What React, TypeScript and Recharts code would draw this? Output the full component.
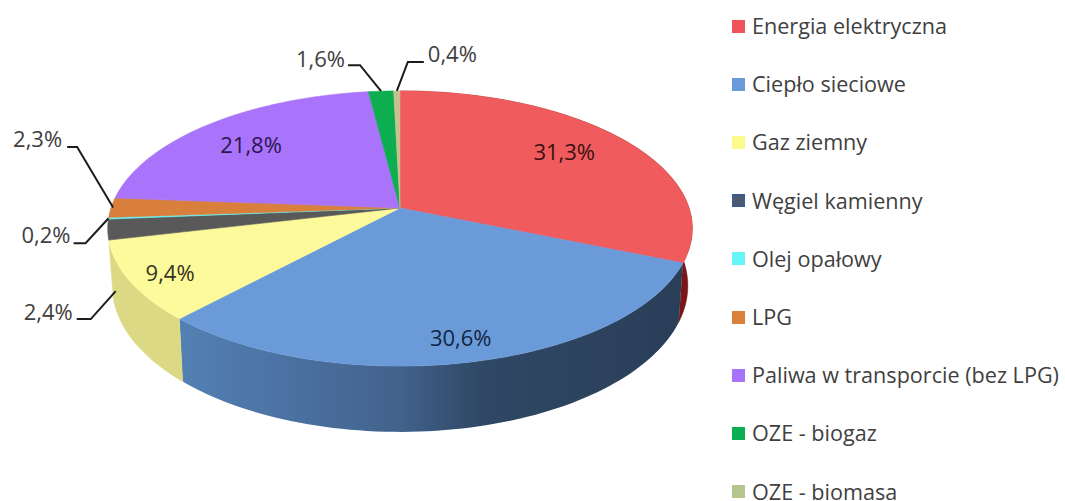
import { Legend, Pie, PieChart } from "recharts";

const CATEGORIES = [
  "Energia elektryczna",
  "Ciepło sieciowe",
  "Gaz ziemny",
  "Węgiel kamienny",
  "Olej opałowy",
  "LPG",
  "Paliwa w transporcie (bez LPG)",
  "OZE - biogaz",
  "OZE - biomasa",
];
const SHARES = [31.3, 30.6, 9.4, 2.4, 0.2, 2.3, 21.8, 1.6, 0.4];
const TOP_COLORS = ["#f05c5e", "#6a9ad8", "#fdfa9b", "#595959", "#66f6f8", "#d97f3c", "#a973fb", "#0cae50", "#c9c08f"];
const LEGEND_COLORS = ["#f0545c", "#6a9ad8", "#fdfa8c", "#505a6e", "#66f6f8", "#d9803a", "#a873fc", "#0bae52", "#b4c68c"];
const WALL_COLORS = ["#7a1616", "#43648f", "#dcd985", "#3a3a3a", "#48aeb0", "#98592a", "#7650b0", "#087a38", "#8d8664"];

const rows = CATEGORIES.map((name, i) => ({
  name,
  value: SHARES[i],
  fill: TOP_COLORS[i],
  wall: WALL_COLORS[i],
  legendColor: LEGEND_COLORS[i],
}));

// the picture is a perspective pie: tilt flattens y, near side is bigger
const Y_SCALE = 0.4655;
const PERSPECTIVE = -0.149;
const WALL_DEPTH = 56;
const BASE_SHRINK = 0.985;
const HIDDEN_WALL_V = 0.25;
const RAD = Math.PI / 180;

function project(cx: number, cy: number, r: number, angle: number) {
  const u = Math.cos(angle * RAD);
  const v = -Math.sin(angle * RAD);
  const w = 1 + PERSPECTIVE * v;
  return { x: cx + (r * u) / w, y: cy + (r * Y_SCALE * v) / w, w, v };
}

function arcPoints(cx: number, cy: number, r: number, start: number, end: number) {
  const steps = Math.max(2, Math.ceil(Math.abs(end - start) / 1.5));
  const points = [];
  for (let i = 0; i <= steps; i++) {
    points.push(project(cx, cy, r, start + ((end - start) * i) / steps));
  }
  return points;
}

function TopFace(props: any) {
  const { cx, cy, outerRadius, startAngle, endAngle, fill } = props;
  const arc = arcPoints(cx, cy, outerRadius, startAngle, endAngle);
  const d = `M${cx},${cy} ` + arc.map((p) => `L${p.x},${p.y}`).join(" ") + " Z";
  return <path d={d} fill={fill} stroke={fill} strokeWidth={0.6} />;
}

function WallFace(props: any) {
  const { cx, cy, outerRadius, startAngle, endAngle, payload, name } = props;
  const label = payload?.name ?? name;
  const arc = arcPoints(cx, cy, outerRadius, startAngle, endAngle);
  // slices on the far half have no wall in view
  if (Math.max(...arc.map((p) => p.v)) < HIDDEN_WALL_V) return null;
  const base = arc
    .map((p) => ({
      x: cx + (p.x - cx) * BASE_SHRINK,
      y: p.y + WALL_DEPTH / p.w,
    }))
    .reverse();
  const d = "M" + [...arc, ...base].map((p) => `${p.x},${p.y}`).join(" L") + " Z";
  const wall = payload?.wall ?? props.wall;

  if (label === "Ciepło sieciowe") {
    return (
      <g>
        <defs>
          <linearGradient id="blueWall" gradientUnits="userSpaceOnUse" x1={180} y1={0} x2={680} y2={0}>
            <stop offset="0" stopColor="#5380b4" />
            <stop offset="0.25" stopColor="#4a6f9e" />
            <stop offset="0.44" stopColor="#42628c" />
            <stop offset="0.6" stopColor="#2f4865" />
            <stop offset="1" stopColor="#2a3e58" />
          </linearGradient>
        </defs>
        <path d={d} fill="url(#blueWall)" />
      </g>
    );
  }
  return <path d={d} fill={wall} stroke={wall} strokeWidth={0.4} />;
}

const INSIDE_LABELS: Record<string, { dx: number; dy: number; color: string }> = {
  "Energia elektryczna": { dx: -58, dy: 12, color: "#3a1012" },
  "Ciepło sieciowe": { dx: -11, dy: -25, color: "#12263f" },
  "Gaz ziemny": { dx: 40, dy: -9, color: "#33331f" },
  "Paliwa w transporcie (bez LPG)": { dx: 41, dy: 20, color: "#2b1650" },
};

// offsets from the slice's rim point: leader start, elbow, stub end, text
const LEADERS: Record<string, { path: number[][]; text: number[]; anchor: "start" | "end" }> = {
  "Węgiel kamienny": { path: [[8, 61.5], [-17, 89.5], [-31, 89.5]], text: [-35, 90], anchor: "end" },
  "Olej opałowy": { path: [[0, 0], [-23, 25], [-35, 25]], text: [-38, 25], anchor: "end" },
  LPG: { path: [[2, 0], [-34, -60.6], [-44, -60.6]], text: [-49, -61], anchor: "end" },
  "OZE - biogaz": { path: [[0, 0], [-21, -26], [-33, -26]], text: [-36, -24], anchor: "end" },
  "OZE - biomasa": { path: [[0, 0], [11, -29], [27, -29]], text: [31, -29], anchor: "start" },
};

const LABEL_FONT = { fontFamily: "'Open Sans', sans-serif", fontSize: 22 };

function renderLabel(props: any) {
  const { cx, cy, outerRadius, midAngle, name, value } = props;
  const rim = project(cx, cy, outerRadius, midAngle);
  const text = `${String(value).replace(".", ",")}%`;
  const inside = INSIDE_LABELS[name];
  if (inside) {
    return (
      <text
        x={rim.x + inside.dx}
        y={rim.y + inside.dy}
        textAnchor="middle"
        dominantBaseline="central"
        fill={inside.color}
        {...LABEL_FONT}
      >
        {text}
      </text>
    );
  }
  const leader = LEADERS[name];
  return (
    <g>
      <polyline
        points={leader.path.map(([dx, dy]) => `${rim.x + dx},${rim.y + dy}`).join(" ")}
        fill="none"
        stroke="#1c1c1c"
        strokeWidth={2}
      />
      <text
        x={rim.x + leader.text[0]}
        y={rim.y + leader.text[1]}
        textAnchor={leader.anchor}
        fill="#404040"
        {...LABEL_FONT}
      >
        {text}
      </text>
    </g>
  );
}

function LegendList({ payload }: any) {
  // both pies report the same slices, keep one entry per category
  const entries = (payload ?? []).filter(
    (entry: any, i: number, all: any[]) => all.findIndex((e) => e.value === entry.value) === i
  );
  return (
    <div>
      {entries.map((entry: any) => {
        const isCoal = entry.value === "Węgiel kamienny";
        return (
          <div
            key={entry.value}
            style={{
              display: "flex",
              alignItems: "center",
              height: 58.2,
              fontFamily: "'Open Sans', sans-serif",
              fontSize: 21.6,
              lineHeight: "26px",
              color: "#3f3f3f",
              whiteSpace: "nowrap",
            }}
          >
            <span
              style={{
                display: "inline-block",
                boxSizing: "border-box",
                width: 13,
                height: 13,
                marginRight: 7,
                backgroundColor: entry.payload?.legendColor ?? entry.color,
                border: isCoal ? "2px solid #3d5a8c" : "none",
              }}
            />
            {entry.value}
          </div>
        );
      })}
    </div>
  );
}

export default function App() {
  return (
    <div style={{ position: "absolute", left: 0, top: 0, width: 1065, height: 501, overflow: "hidden", background: "#fff" }}>
      <PieChart width={1065} height={501} margin={{ top: 0, right: 0, bottom: 0, left: 0 }}>
        <Pie
          data={rows}
          dataKey="value"
          nameKey="name"
          cx={400}
          cy={208}
          outerRadius={289}
          startAngle={90}
          endAngle={-270}
          stroke="none"
          legendType="none"
          shape={WallFace}
          isAnimationActive={false}
        />
        <Pie
          data={rows}
          dataKey="value"
          nameKey="name"
          cx={400}
          cy={208}
          outerRadius={289}
          startAngle={90}
          endAngle={-270}
          stroke="none"
          shape={TopFace}
          label={renderLabel}
          labelLine={false}
          isAnimationActive={false}
        />
        <Legend
          layout="vertical"
          align="right"
          verticalAlign="top"
          itemSorter={null}
          content={<LegendList />}
          wrapperStyle={{ left: 732, top: -3, width: 333, right: "auto" }}
        />
      </PieChart>
    </div>
  );
}
